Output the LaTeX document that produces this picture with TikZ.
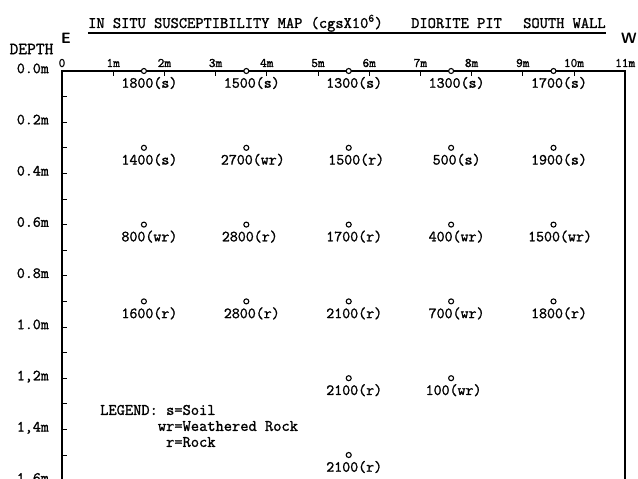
\documentclass[tikz,border=0pt]{standalone}
\usepackage{fontspec}
\setmonofont{Latin Modern Mono}[FakeBold=1.4]

\tikzset{
  tw/.style={font=\ttfamily\fontsize{#1}{#1}\selectfont, inner sep=0pt},
  frame/.style={line width=1.5pt},
  tick/.style={line width=0.9pt},
  spot/.style={draw, fill=white, line width=1.1pt},
  val/.style={tw=15.5, anchor=west, xshift=-23pt, yshift=-12pt},
  ticklbl/.style={tw=13, anchor=base, yshift=4pt},
  depthlbl/.style={tw=15.5, anchor=mid east, xshift=-13pt},
  compass/.style={font=\sffamily\bfseries\fontsize{15}{15}\selectfont, inner sep=0pt}
}

\begin{document}
\begin{tikzpicture}[x=51.2pt, y=-256pt]
    \useasboundingbox (-62pt,71pt) rectangle (576pt,-408pt);
    % heading
    \node[tw=16, anchor=base west] (ttl) at (26pt,43pt) {IN SITU SUSCEPTIBILITY MAP (cgsX10\textsuperscript{6})};
    \node[tw=16, anchor=base west] (pit) at (349pt,43pt) {DIORITE PIT};
    \node[tw=16, anchor=base west] (wall) at (461pt,43pt) {SOUTH WALL};
    \draw[line width=1.2pt] ([yshift=-5pt]ttl.base west) -- ([yshift=-5pt]wall.base east);
    \node[compass] (east) at (4pt,33pt) {E};
    \node[compass] (west) at (567pt,33pt) {W};
    \node[tw=17] (depth) at (-30.5pt,22pt) {DEPTH};
    % wall outline and scales
    \draw[frame] (0,1.65) -- (0,0) -- (11,0) -- (11,1.65);
    \foreach \m in {1,...,10} \draw[tick] (\m,0) -- ++(0,-5pt);
    \foreach \d in {0.1,0.2,...,1.6} \draw[tick] (0,\d) -- ++(5pt,0);
    \node[ticklbl] (m0) at (0,0) {0};
    \foreach \m in {1,...,11} \node[ticklbl] (m\m) at (\m,0) {\m m};
    \foreach \d/\t [count=\i] in {0/0.0m, 0.2/0.2m, 0.4/0.4m, 0.6/0.6m, 0.8/0.8m, 1/1.0m, 1.2/{1,2m}, 1.4/{1,4m}, 1.6/1.6m}
        \node[depthlbl] (d\i) at (0,\d) {\t};
    % readings
    \draw[spot] (1.6,0) circle (2.5pt) node[val] (r1c1) {1800(s)};
    \draw[spot] (3.6,0) circle (2.5pt) node[val] (r1c2) {1500(s)};
    \draw[spot] (5.6,0) circle (2.5pt) node[val] (r1c3) {1300(s)};
    \draw[spot] (7.6,0) circle (2.5pt) node[val] (r1c4) {1300(s)};
    \draw[spot] (9.6,0) circle (2.5pt) node[val] (r1c5) {1700(s)};
    \draw[spot] (1.6,0.3) circle (2.5pt) node[val] (r2c1) {1400(s)};
    \draw[spot] (3.6,0.3) circle (2.5pt) node[val, xshift=-3pt] (r2c2) {2700(wr)};
    \draw[spot] (5.6,0.3) circle (2.5pt) node[val, xshift=2pt] (r2c3) {1500(r)};
    \draw[spot] (7.6,0.3) circle (2.5pt) node[val, xshift=4pt] (r2c4) {500(s)};
    \draw[spot] (9.6,0.3) circle (2.5pt) node[val] (r2c5) {1900(s)};
    \draw[spot] (1.6,0.6) circle (2.5pt) node[val] (r3c1) {800(wr)};
    \draw[spot] (3.6,0.6) circle (2.5pt) node[val, xshift=-2pt] (r3c2) {2800(r)};
    \draw[spot] (5.6,0.6) circle (2.5pt) node[val] (r3c3) {1700(r)};
    \draw[spot] (7.6,0.6) circle (2.5pt) node[val] (r3c4) {400(wr)};
    \draw[spot] (9.6,0.6) circle (2.5pt) node[val, xshift=-3pt] (r3c5) {1500(wr)};
    \draw[spot] (1.6,0.9) circle (2.5pt) node[val] (r4c1) {1600(r)};
    \draw[spot] (3.6,0.9) circle (2.5pt) node[val] (r4c2) {2800(r)};
    \draw[spot] (5.6,0.9) circle (2.5pt) node[val] (r4c3) {2100(r)};
    \draw[spot] (7.6,0.9) circle (2.5pt) node[val] (r4c4) {700(wr)};
    \draw[spot] (9.6,0.9) circle (2.5pt) node[val] (r4c5) {1800(r)};
    \draw[spot] (5.6,1.2) circle (2.5pt) node[val] (r5c3) {2100(r)};
    \draw[spot] (7.6,1.2) circle (2.5pt) node[val, xshift=-3pt] (r5c4) {100(wr)};
    \draw[spot] (5.6,1.5) circle (2.5pt) node[val] (r6c3) {2100(r)};
    % key
    \node[tw=16, align=left, anchor=west] (legend) at (38pt,-355pt)
        {LEGEND: s=Soil\\\phantom{LEGEND:}wr=Weathered Rock\\\phantom{LEGEND:x}r=Rock};
\end{tikzpicture}
\end{document}
